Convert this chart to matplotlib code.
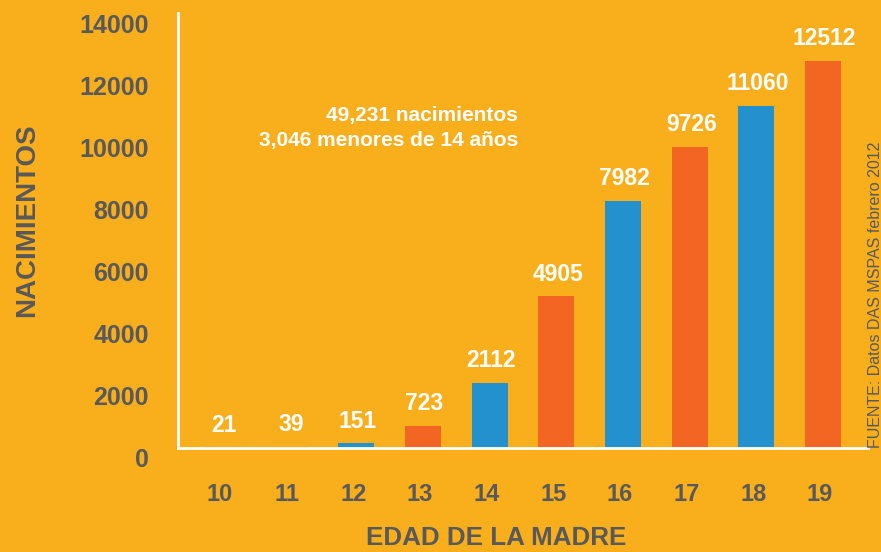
import numpy as np
import matplotlib
matplotlib.use('Agg')
from matplotlib import pyplot as plt
import matplotlib.transforms as mtransforms

edades = ['10', '11', '12', '13', '14', '15', '16', '17', '18', '19']
nacimientos = [21, 39, 151, 723, 2112, 4905, 7982, 9726, 11060, 12512]
colores = ['#2291CD', '#F26522'] * 5
y_ticks = [0, 2000, 4000, 6000, 8000, 10000, 12000, 14000]

fondo = '#F9AE1B'
gris = '#58595B'

plt.rcParams['font.family'] = ['Liberation Sans', 'DejaVu Sans']

fig = plt.figure(figsize=(8.81, 5.52), dpi=100, facecolor=fondo)
ax = fig.add_axes([0.202, 0.1884, 0.783, 0.788])
ax.set_facecolor(fondo)

x = np.arange(len(edades))
ax.bar(x, nacimientos, width=0.54, color=colores, zorder=2)

for xi, v in zip(x, nacimientos):
    ax.annotate(str(v), (xi, v), xytext=(1, 16), textcoords='offset points',
                ha='center', va='center', color='white', fontsize=16.5,
                fontweight='bold')

ax.set_xlim(-0.675, 9.67)
ax.set_ylim(0, 14060)

for s in ['top', 'right']:
    ax.spines[s].set_visible(False)
for s in ['left', 'bottom']:
    ax.spines[s].set_color('white')
    ax.spines[s].set_linewidth(2)
    ax.spines[s].set_zorder(3)

ax.set_xticks(x)
ax.set_xticklabels(edades)
ax.set_yticks(y_ticks)
ax.set_yticklabels([str(t) for t in y_ticks])
ax.tick_params(axis='both', length=0, colors=gris)
ax.tick_params(axis='x', pad=25, labelsize=17)
ax.tick_params(axis='y', pad=21, labelsize=18)
for lab in ax.get_yticklabels():
    lab.set_fontweight('bold')
    lab.set_transform(lab.get_transform() +
                      mtransforms.ScaledTranslation(0, -0.09, fig.dpi_scale_trans))
for lab in ax.get_xticklabels():
    lab.set_fontweight('bold')
    lab.set_transform(lab.get_transform() +
                      mtransforms.ScaledTranslation(-0.03, 0, fig.dpi_scale_trans))

fig.text(27 / 881, 1 - 220 / 552, 'NACIMIENTOS', rotation=90, ha='center',
         va='center', color=gris, fontsize=20, fontweight='bold')
fig.text(496 / 881, 1 - 538 / 552, 'EDAD DE LA MADRE', ha='center',
         va='center', color=gris, fontsize=18.7, fontweight='bold')
fig.text(875 / 881, 1 - 448 / 552, 'FUENTE: Datos DAS MSPAS febrero 2012',
         rotation=90, ha='center', va='bottom', color=gris, fontsize=11.5)
fig.text(518 / 881, 1 - 128 / 552, '49,231 nacimientos\n3,046 menores de 14 años',
         ha='right', va='center', color='white', fontsize=15, fontweight='bold',
         linespacing=1.35)

fig.savefig('out.png', dpi=100, facecolor=fondo)
